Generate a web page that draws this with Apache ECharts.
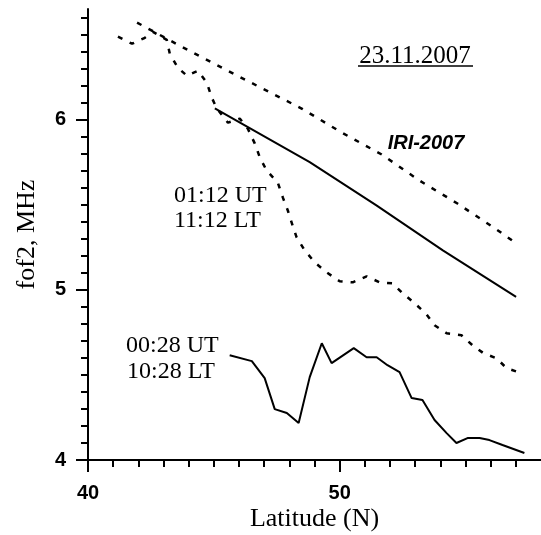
<!DOCTYPE html>
<html>
<head>
<meta charset="utf-8">
<script src="https://cdn.jsdelivr.net/npm/echarts@6/dist/echarts.min.js"></script>
<style>
  html, body { margin: 0; padding: 0; background: #fff; }
  #chart { width: 541px; height: 535px; }
</style>
</head>
<body>
<div id="chart"></div>
<script>
// IRI-2007 model, dashed
const iriLat = [41.95, 43.65, 45.32, 46.94, 48.49, 50.08, 51.67, 53.17, 54.68, 56.23, 56.85];
const iriFof2 = [6.57, 6.434, 6.305, 6.182, 6.065, 5.924, 5.795, 5.642, 5.507, 5.355, 5.29];

// 01:12 UT solid curve
const fitLat = [45.04, 48.81, 51.46, 54.10, 57.01];
const fitFof2 = [6.066, 5.75, 5.496, 5.232, 4.958];

// 01:12 UT / 11:12 LT measured, dashed
const lat0112 = [41.19, 41.75, 42.26, 42.58, 43.13, 43.25, 43.57, 43.93, 44.37, 44.72, 44.92, 45.12,
  45.56, 46.03, 46.35, 46.63, 46.83, 47.10, 47.54, 47.74, 47.94, 48.13, 48.29, 48.61, 49.01, 49.48,
  50.00, 50.52, 51.07, 51.59, 52.10, 52.50, 52.98, 53.45, 53.77, 54.25, 54.84, 55.28, 55.71, 56.23,
  56.63, 57.22];
const fof2_0112 = [6.487, 6.446, 6.481, 6.516, 6.469, 6.387, 6.305, 6.258, 6.287, 6.217, 6.129, 6.065,
  5.982, 6.006, 5.947, 5.859, 5.777, 5.701, 5.63, 5.543, 5.466, 5.378, 5.308, 5.232, 5.161, 5.103,
  5.05, 5.044, 5.079, 5.044, 5.038, 4.98, 4.921, 4.856, 4.792, 4.745, 4.733, 4.674, 4.628, 4.598,
  4.54, 4.51];

// 00:28 UT / 10:28 LT measured, solid
const lat0028 = [45.63, 46.51, 47.02, 47.42, 47.90, 48.37, 48.81, 49.29, 49.68, 50.56, 51.07, 51.47,
  51.90, 52.38, 52.86, 53.29, 53.77, 54.25, 54.64, 55.08, 55.56, 55.95, 56.47, 57.34];
const fof2_0028 = [4.616, 4.581, 4.481, 4.299, 4.276, 4.217, 4.487, 4.686, 4.569, 4.657, 4.604, 4.604,
  4.557, 4.516, 4.364, 4.352, 4.235, 4.158, 4.1, 4.129, 4.129, 4.117, 4.088, 4.041];

const xTicks = [40, 50];
const yTicks = [4, 5, 6];

const zip = (xs, ys) => xs.map((x, i) => [x, ys[i]]);

const chart = echarts.init(document.getElementById("chart"), null, { renderer: "canvas" });

const serif = "Liberation Serif";
const sans = "Liberation Sans";
const black = "#000";
const dash = [5, 8];

chart.setOption({
  backgroundColor: "#fff",
  animation: false,
  grid: { left: 88, right: 0, top: 9, bottom: 75, containLabel: false, outerBoundsMode: "none" },
  xAxis: {
    type: "value",
    min: 40,
    max: 58,
    interval: 10,
    name: "Latitude (N)",
    nameLocation: "middle",
    nameGap: 46,
    nameMoveOverlap: false,
    nameTextStyle: { fontFamily: serif, fontSize: 26, color: black },
    axisLine: { show: true, lineStyle: { color: black, width: 2 } },
    axisTick: { show: true, length: 12, customValues: xTicks, lineStyle: { color: black, width: 2 } },
    minorTick: { show: true, splitNumber: 10, length: 7, lineStyle: { color: black, width: 2 } },
    axisLabel: { customValues: xTicks, margin: 23, fontFamily: sans, fontWeight: "bold", fontSize: 20, color: black },
    splitLine: { show: false },
    minorSplitLine: { show: false },
  },
  yAxis: {
    type: "value",
    min: 4,
    max: 6.65,
    interval: 1,
    name: "fof2, MHz",
    nameLocation: "middle",
    nameGap: 48,
    nameMoveOverlap: false,
    nameTextStyle: { fontFamily: serif, fontSize: 26, color: black },
    axisLine: { show: true, lineStyle: { color: black, width: 2 } },
    axisTick: { show: true, length: 12, customValues: yTicks, lineStyle: { color: black, width: 2 } },
    minorTick: { show: true, splitNumber: 10, length: 7, lineStyle: { color: black, width: 2 } },
    axisLabel: { customValues: yTicks, margin: 22, fontFamily: sans, fontWeight: "bold", fontSize: 20, color: black },
    splitLine: { show: false },
    minorSplitLine: { show: false },
  },
  series: [
    {
      name: "IRI-2007",
      type: "line",
      data: zip(iriLat, iriFof2),
      symbol: "none",
      lineStyle: { color: black, width: 2.5, type: dash },
    },
    {
      name: "01:12 UT fit",
      type: "line",
      data: zip(fitLat, fitFof2),
      symbol: "none",
      lineStyle: { color: black, width: 2 },
    },
    {
      name: "01:12 UT",
      type: "line",
      data: zip(lat0112, fof2_0112),
      symbol: "none",
      lineStyle: { color: black, width: 2.5, type: dash },
    },
    {
      name: "00:28 UT",
      type: "line",
      data: zip(lat0028, fof2_0028),
      symbol: "none",
      lineStyle: { color: black, width: 2 },
    },
  ],
  graphic: [
    {
      type: "text",
      style: { x: 415, y: 56, text: "23.11.2007", textAlign: "center", textVerticalAlign: "middle",
        fontFamily: serif, fontSize: 25, fill: black },
    },
    {
      type: "line",
      shape: { x1: 358, y1: 66, x2: 473, y2: 66 },
      style: { stroke: black, lineWidth: 1.5 },
    },
    {
      type: "text",
      style: { x: 426, y: 143, text: "IRI-2007", textAlign: "center", textVerticalAlign: "middle",
        fontFamily: sans, fontWeight: "bold", fontStyle: "italic", fontSize: 20, fill: black },
    },
    {
      type: "text",
      style: { x: 174, y: 196, text: "01:12 UT", textVerticalAlign: "middle", fontFamily: serif, fontSize: 24, fill: black },
    },
    {
      type: "text",
      style: { x: 174, y: 221, text: "11:12 LT", textVerticalAlign: "middle", fontFamily: serif, fontSize: 24, fill: black },
    },
    {
      type: "text",
      style: { x: 126, y: 346, text: "00:28 UT", textVerticalAlign: "middle", fontFamily: serif, fontSize: 24, fill: black },
    },
    {
      type: "text",
      style: { x: 127, y: 372, text: "10:28 LT", textVerticalAlign: "middle", fontFamily: serif, fontSize: 24, fill: black },
    },
  ],
});

window.addEventListener("resize", () => chart.resize());
</script>
</body>
</html>
